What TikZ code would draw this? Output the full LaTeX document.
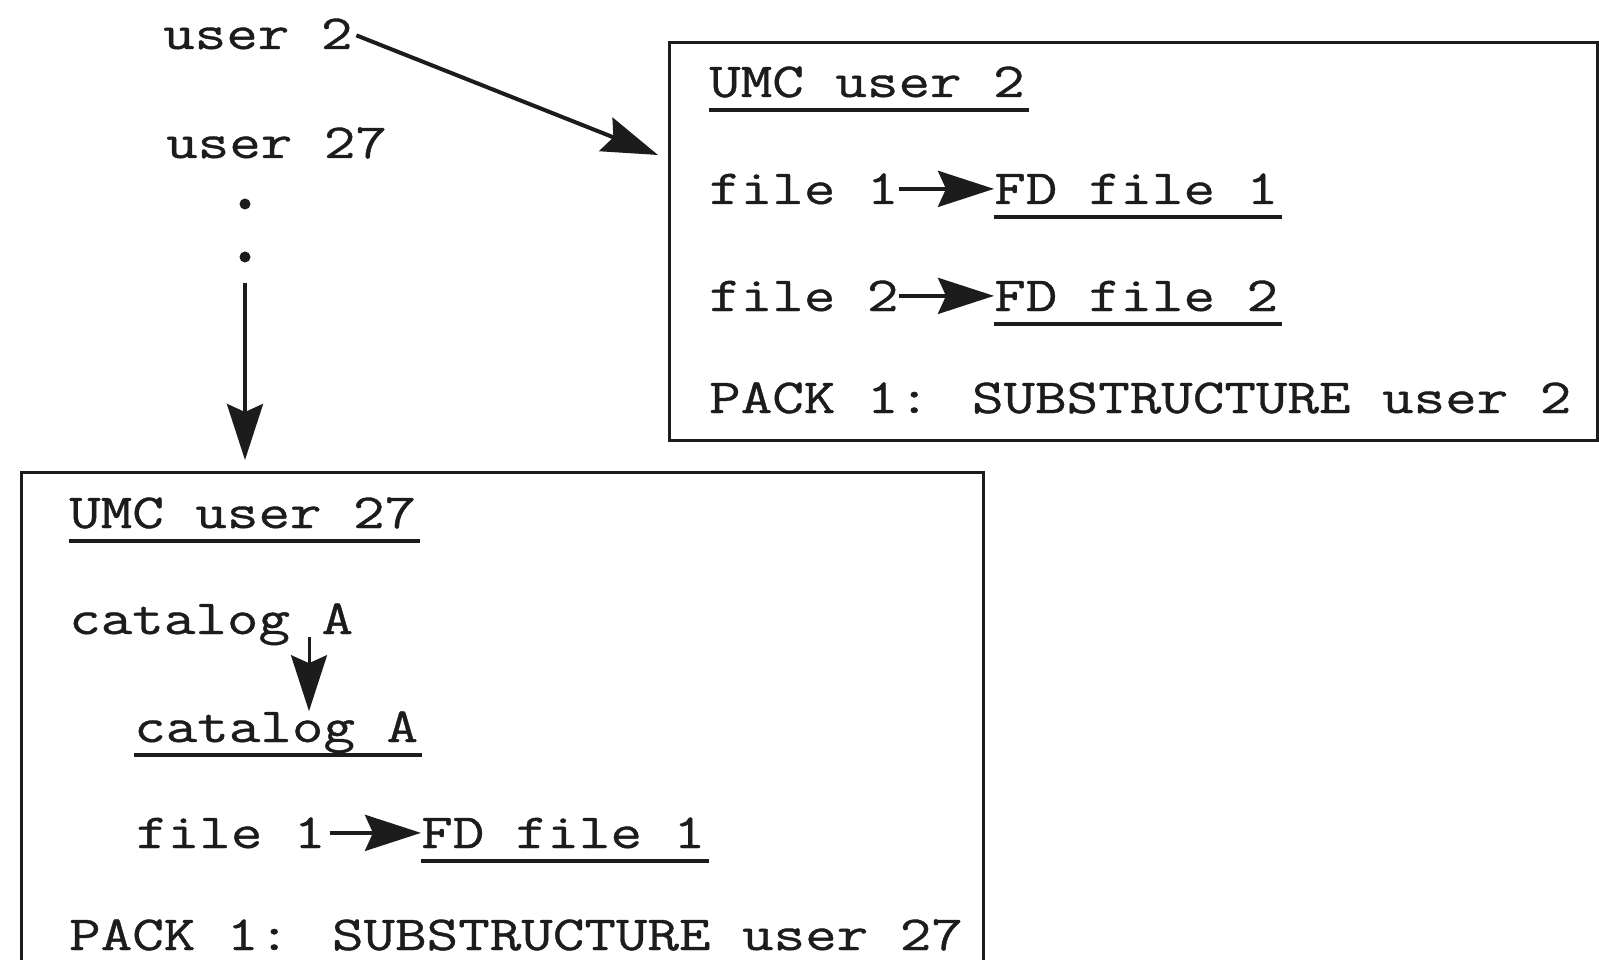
\documentclass[tikz,border=0pt]{standalone}
\usepackage{fontspec}
\setmainfont{Latin Modern Mono}[FakeStretch=1.25,FakeBold=0.8]
\usetikzlibrary{arrows.meta,calc}
\definecolor{ink}{RGB}{28,28,28}

\begin{document}
\begin{tikzpicture}[x=1pt,y=-1pt,
  txt/.style={anchor=base west, inner sep=0pt, font=\fontsize{49}{58}\selectfont, text=ink},
  frame/.style={draw=ink, line width=3pt, inner sep=0pt, anchor=north west},
  ptr/.style={draw=ink, line width=4pt, -{Stealth[length=56pt,width=36pt,inset=8pt]}},
  thinptr/.style={ptr, line width=3pt},
  uline/.style={draw=ink, line width=4pt},
  dotmark/.style={circle, fill=ink, inner sep=0pt, minimum size=11pt}]

\useasboundingbox (0,0) rectangle (1599,960);
\clip (0,0) rectangle (1599,960);

% users listed on the left
\node[txt] (u2)  at (163,49)  {user 2};
\node[txt] (u27) at (166,158) {user 27};
\node[dotmark] (d1) at (245,204) {};
\node[dotmark] (d2) at (245,257) {};

% UMC of user 2
\node[frame, minimum width=928pt, minimum height=398pt] (box2) at (668,41) {};
\node[txt] (umc2)  at (709,97)  {UMC user 2};
\node[txt] (f1)    at (709,204) {file 1};
\node[txt] (fd1)   at (994,204) {FD file 1};
\node[txt] (f2)    at (709,311) {file 2};
\node[txt] (fd2)   at (994,311) {FD file 2};
\node[txt] (pack2) at (709,413) {PACK 1: SUBSTRUCTURE user 2};

% UMC of user 27 (runs on below the page edge)
\node[frame, minimum width=962pt, minimum height=560pt] (box27) at (20,471) {};
\node[txt] (umc27)  at (69,528)  {UMC user 27};
\node[txt] (catA)   at (69,634)  {catalog A};
\node[txt] (catB)   at (134,742) {catalog A};
\node[txt] (f1b)    at (136,848) {file 1};
\node[txt] (fd1b)   at (421,848) {FD file 1};
\node[txt] (pack27) at (69,950)  {PACK 1: SUBSTRUCTURE user 27};

% underlined names
\foreach \n in {umc2,fd1,fd2,umc27,catB,fd1b}
  \draw[uline] ([shift={(0pt,-13pt)}]\n.base west) -- ([shift={(4pt,-13pt)}]\n.base east);

% pointers
\coordinate (a2tip) at (658,155);
\draw[ptr, shorten <=4pt] (u2.east) -- (a2tip);
\draw[ptr, shorten <=20pt, shorten >=11pt] (d2) -- (d2 |- box27.north);
\draw[ptr] (f1.east) -- (fd1.west);
\draw[ptr] (f2.east) -- (fd2.west);
\draw[ptr, shorten <=4pt] (f1b.east) -- (fd1b.west);
\path (catA.base west) ++(240,3) coordinate (catdn);
\draw[thinptr] (catdn) -- (catdn |- catB.north);
\end{tikzpicture}
\end{document}
